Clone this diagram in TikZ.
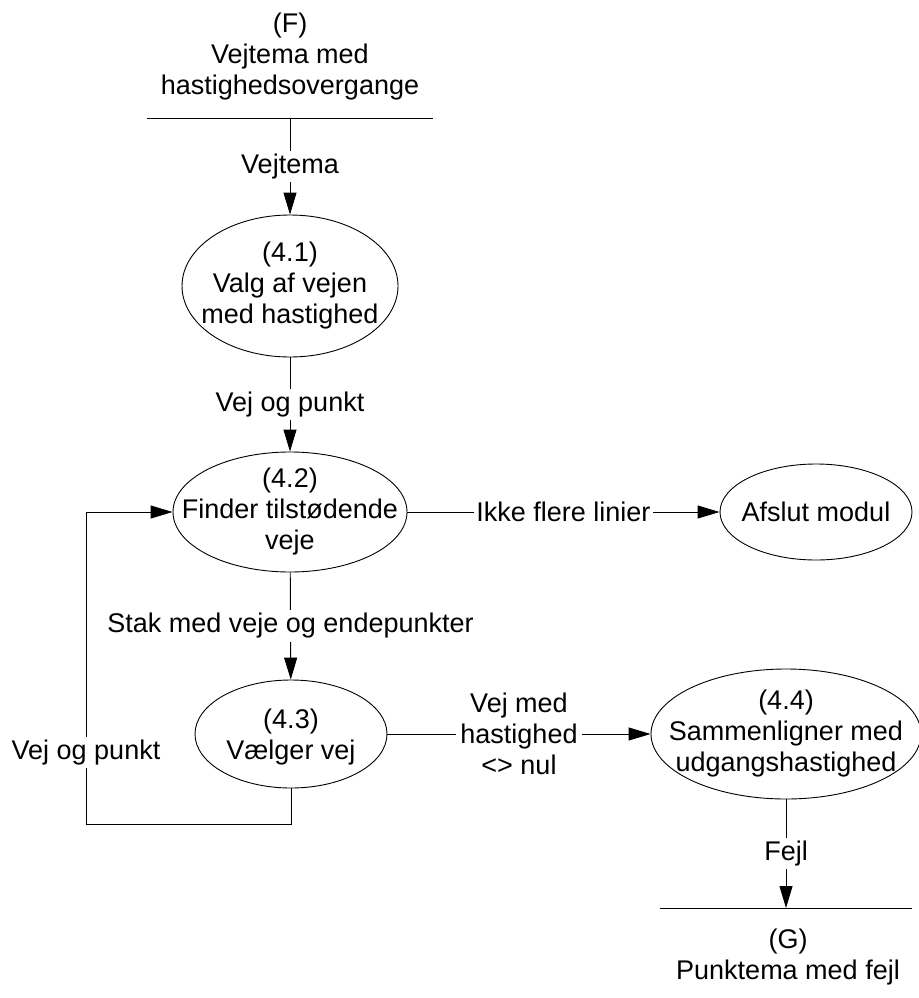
\documentclass[tikz,border=0pt]{standalone}
\usepackage{fontspec}
\setmainfont{Liberation Sans}
\usetikzlibrary{shapes.geometric,arrows.meta}

\begin{document}
\begin{tikzpicture}[x=1pt,y=-1pt,
  every node/.style={font=\fontsize{27}{31}\selectfont, align=center},
  proc/.style={draw, ellipse, inner sep=0pt, line width=0.9pt},
  flow/.style={draw, line width=0.9pt, -{Triangle[length=22pt,width=13pt]}},
  plain/.style={draw, line width=0.9pt},
  lbl/.style={fill=white, inner xsep=2pt, inner ysep=3pt},
  txt/.style={inner sep=0pt},
]
\useasboundingbox (0,0) rectangle (918,998);

% data store (F)
\node[txt] (ftext) at (290,57) {(F)\\Vejtema med\\hastighedsovergange};
\coordinate (fL) at (147,118);
\coordinate (fR) at (433,118);
\coordinate (fM) at (290,118);
\draw[plain] (fL) -- (fR);

% processes
\node[proc, minimum width=216pt, minimum height=142pt] (p41) at (290,286) {};
\node[txt] (t41) at (p41.center) {(4.1)\\Valg af vejen\\med hastighed};

\node[proc, minimum width=234pt, minimum height=120pt] (p42) at (290,512) {};
\node[txt] (t42) at (p42.center) {(4.2)\\Finder tilstødende\\veje};

\node[proc, minimum width=192pt, minimum height=96pt] (pend) at (816,512) {};
\node[txt] (tend) at (pend.center) {Afslut modul};

\node[proc, minimum width=192pt, minimum height=108pt] (p43) at (291,734) {};
\node[txt] (t43) at (291,737) {(4.3)\\Vælger vej};

\node[proc, minimum width=270pt, minimum height=130pt] (p44) at (786,734) {};
\node[txt] (t44) at (p44.center) {(4.4)\\Sammenligner med\\udgangshastighed};

% data store (G)
\coordinate (gL) at (660,908);
\coordinate (gR) at (912,908);
\coordinate (gM) at (786,908);
\draw[plain] (gL) -- (gR);
\node[txt] (gtext) at (788,957) {(G)\\Punktema med fejl};

% flows
\draw[flow] (fM) -- node[lbl] {Vejtema} (p41);
\draw[flow] (p41) -- node[lbl] {Vej og punkt} (p42);
\draw[flow] (p42) -- node[lbl] {Ikke flere linier} (pend);
\draw[flow] (p42) -- node[lbl] {Stak med veje og endepunkter} (p43);
\draw[flow] (p43) -- node[lbl, inner xsep=4pt] {Vej med\\hastighed\\<> nul} (p44);
\draw[flow] (p44) -- node[lbl] {Fejl} (gM);

% feedback loop back to 4.2
\coordinate (lb) at (86,824);
\coordinate (lt) at (86,512);
\draw[flow] (p43.south) |- (lb) -- node[lbl, pos=0.23] {Vej og punkt} (lt) -- (p42.west);
\end{tikzpicture}
\end{document}
